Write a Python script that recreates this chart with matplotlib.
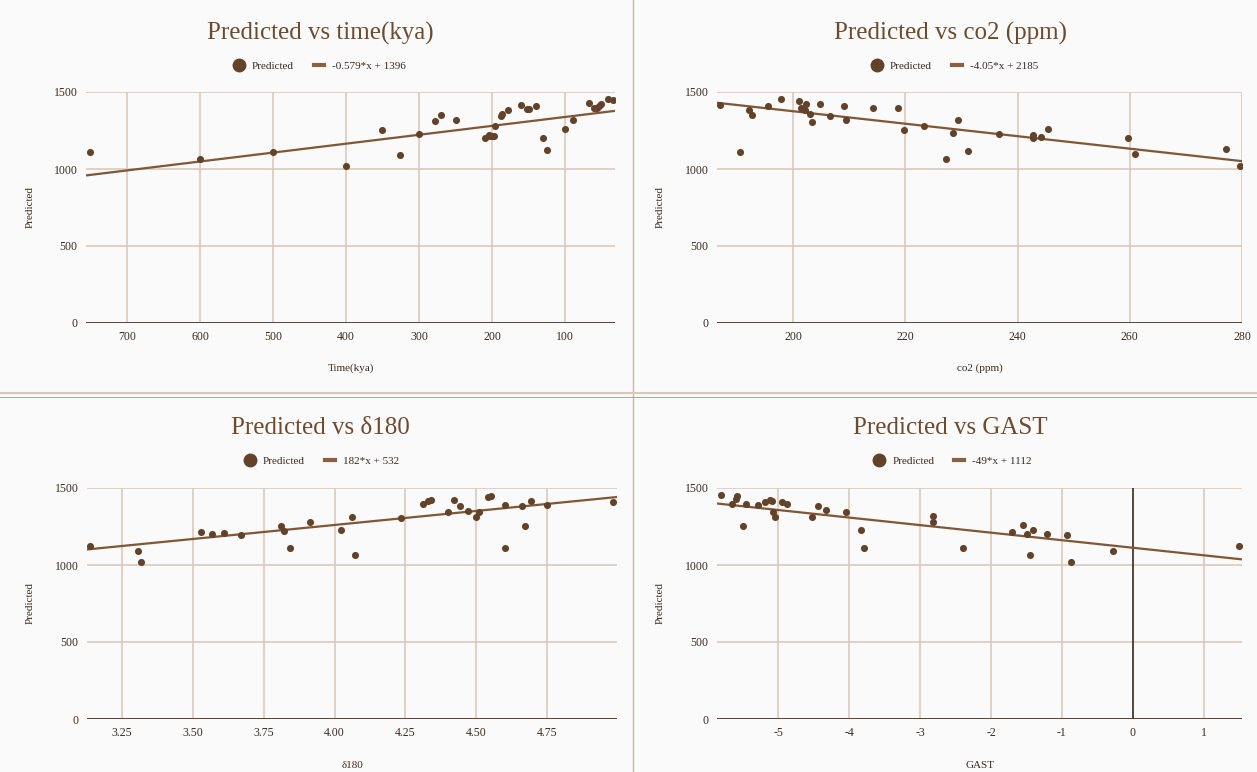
import matplotlib.pyplot as plt
from matplotlib.lines import Line2D

# ---- data ----
time_kya = [751, 600, 500, 400, 351, 326, 300, 279, 270, 250, 210, 205, 203, 200, 197, 196,
            188, 186, 178, 160, 152, 150, 140, 130, 125, 100, 90, 68, 61, 57, 54, 51, 41, 35]
time_pred = [1113, 1065, 1111, 1022, 1254, 1093, 1230, 1309, 1348, 1317, 1204, 1224, 1213, 1213,
             1217, 1280, 1346, 1359, 1385, 1415, 1391, 1387, 1411, 1200, 1126, 1257, 1317, 1426,
             1393, 1393, 1409, 1424, 1457, 1448]

co2_ppm = [187.0, 190.5, 192.1, 192.6, 195.5, 197.8, 201.0, 201.4, 201.7, 202.1, 202.2, 202.9,
           203.4, 204.8, 206.6, 209.0, 209.4, 214.3, 218.7, 219.7, 223.3, 227.3, 228.5, 229.3,
           231.1, 236.6, 242.7, 242.7, 244.2, 245.5, 259.7, 260.9, 277.2, 279.6]
co2_pred = [1413, 1113, 1383, 1348, 1409, 1452, 1444, 1394, 1387, 1385, 1424, 1355, 1307, 1420,
            1342, 1407, 1316, 1394, 1394, 1253, 1279, 1065, 1232, 1318, 1115, 1225, 1218, 1201,
            1210, 1258, 1201, 1095, 1130, 1022]

d18o = [3.136, 3.307, 3.317, 3.528, 3.568, 3.609, 3.670, 3.810, 3.821, 3.841, 3.912, 4.021, 4.061,
        4.071, 4.234, 4.312, 4.331, 4.341, 4.402, 4.422, 4.443, 4.472, 4.500, 4.511, 4.541, 4.551,
        4.603, 4.603, 4.662, 4.672, 4.692, 4.751, 4.982]
d18o_pred = [1124, 1094, 1020, 1214, 1199, 1205, 1194, 1253, 1221, 1111, 1279, 1227, 1312, 1063,
             1306, 1395, 1413, 1424, 1343, 1424, 1380, 1352, 1312, 1345, 1443, 1448, 1389, 1111,
             1382, 1251, 1413, 1391, 1408]

gast = [-5.815, -5.652, -5.597, -5.581, -5.500, -5.45, -5.283, -5.192, -5.121, -5.091, -5.076,
        -5.05, -4.95, -4.884, -4.525, -4.434, -4.333, -4.04, -3.833, -3.787, -2.818, -2.818,
        -2.398, -1.70, -1.553, -1.492, -1.452, -1.411, -1.214, -0.935, -0.875, -0.278, 1.491]
gast_pred = [1452, 1393, 1426, 1446, 1254, 1393, 1387, 1411, 1424, 1415, 1346, 1313, 1411, 1393,
             1309, 1385, 1354, 1343, 1230, 1113, 1315, 1278, 1111, 1213, 1257, 1204, 1063, 1226,
             1204, 1198, 1020, 1091, 1126]

titles = ["Predicted vs time(kya)", "Predicted vs co2 (ppm)", "Predicted vs δ180", "Predicted vs GAST"]
xlabels = ["Time(kya)", "co2 (ppm)", "δ180", "GAST"]
slopes = [-0.579, -4.05, 182, -49]
intercepts = [1396, 2185, 532, 1112]
trend_labels = ["-0.579*x + 1396", "-4.05*x + 2185", "182*x + 532", "-49*x + 1112"]
yticks = [0, 500, 1000, 1500]
xticks_list = [[700, 600, 500, 400, 300, 200, 100],
               [200, 220, 240, 260, 280],
               [3.25, 3.50, 3.75, 4.00, 4.25, 4.50, 4.75],
               [-5, -4, -3, -2, -1, 0, 1]]
xtick_labels = [["700", "600", "500", "400", "300", "200", "100"],
                ["200", "220", "240", "260", "280"],
                ["3.25", "3.50", "3.75", "4.00", "4.25", "4.50", "4.75"],
                ["-5", "-4", "-3", "-2", "-1", "0", "1"]]
xlims = [(756, 32), (186.4, 280), (3.126, 4.997), (-5.865, 1.54)]

xs = [time_kya, co2_ppm, d18o, gast]
ys = [time_pred, co2_pred, d18o_pred, gast_pred]

# ---- styling ----
W, H = 1257, 772
BG = '#fafafa'
BROWN_T = '#6e4b2e'
POINT = '#62432a'
LINE = '#7f5636'
GRID = '#dcc8b8'
TXT = '#3b2a1d'
SERIF = ['Liberation Serif', 'DejaVu Serif']

plt.rcParams['font.family'] = SERIF

fig = plt.figure(figsize=(W / 100, H / 100), dpi=100)
fig.patch.set_facecolor(BG)

# pixel boxes: left, right, top, bottom
boxes = [(86, 615, 92, 323), (717, 1242, 92, 323), (87, 617, 488, 719), (717, 1242, 488, 719)]
title_pos = [(320, 33), (950, 33), (320, 428), (950, 428)]
legend_pos = [(320, 66), (955, 66), (322, 461), (953, 461)]
ylabel_x = [30, 660, 30, 660]
xlabel_y = [368, 368, 765, 765]


def fx(px):
    return px / W


def fy(py):
    return 1 - py / H


for i in range(4):
    l, r, t, b = boxes[i]
    ax = fig.add_axes([fx(l), fy(b), (r - l) / W, (b - t) / H])
    ax.set_facecolor(BG)
    for s in ax.spines.values():
        s.set_visible(False)

    ax.set_xlim(*xlims[i])
    ax.set_ylim(0, 1500)
    ax.set_yticks(yticks)
    ax.set_yticklabels([str(v) for v in yticks])
    ax.set_xticks(xticks_list[i])
    ax.set_xticklabels(xtick_labels[i])
    ax.tick_params(length=0, labelsize=8.5, colors=TXT, pad=6)
    ax.grid(True, color=GRID, linewidth=1.2, zorder=0)
    ax.set_axisbelow(True)

    # baseline at y=0
    ax.axhline(0, color='#4a3626', linewidth=2, zorder=2)
    if i == 3:
        ax.axvline(0, color='#3f2d20', linewidth=1.2, zorder=2)

    ax.scatter(xs[i], ys[i], s=26, color=POINT, zorder=4, linewidths=0)
    x0, x1 = xlims[i]
    ax.plot([x0, x1], [slopes[i] * x0 + intercepts[i], slopes[i] * x1 + intercepts[i]],
            color=LINE, linewidth=1.6, zorder=3)

    fig.text(fx(title_pos[i][0]), fy(title_pos[i][1]), titles[i], ha='center', va='center',
             fontsize=18, color=BROWN_T)
    fig.text(fx(ylabel_x[i]), fy((t + b) / 2), "Predicted", rotation=90, ha='center', va='center',
             fontsize=8, color=TXT)
    fig.text(fx((l + r) / 2), fy(xlabel_y[i]), xlabels[i], ha='center', va='center',
             fontsize=8, color=TXT)

    handles = [Line2D([], [], marker='o', linestyle='', markersize=9, color=POINT),
               Line2D([], [], color='#8a6040', linewidth=3)]
    fig.legend(handles, ["Predicted", trend_labels[i]], loc='center',
               bbox_to_anchor=(fx(legend_pos[i][0]), fy(legend_pos[i][1])), ncol=2,
               frameon=False, fontsize=8, handlelength=0.9, handletextpad=0.7,
               columnspacing=1.8, labelcolor=TXT)

# panel separators
fig.add_artist(Line2D([fx(633), fx(633)], [0, 1], color='#c9b8a8', linewidth=1))
fig.add_artist(Line2D([0, 1], [fy(393), fy(393)], color='#d8c8b8', linewidth=1.5))
fig.add_artist(Line2D([0, 1], [fy(397), fy(397)], color='#9a9a9a', linewidth=0.6))

fig.savefig('out.png', dpi=100, facecolor=BG)
